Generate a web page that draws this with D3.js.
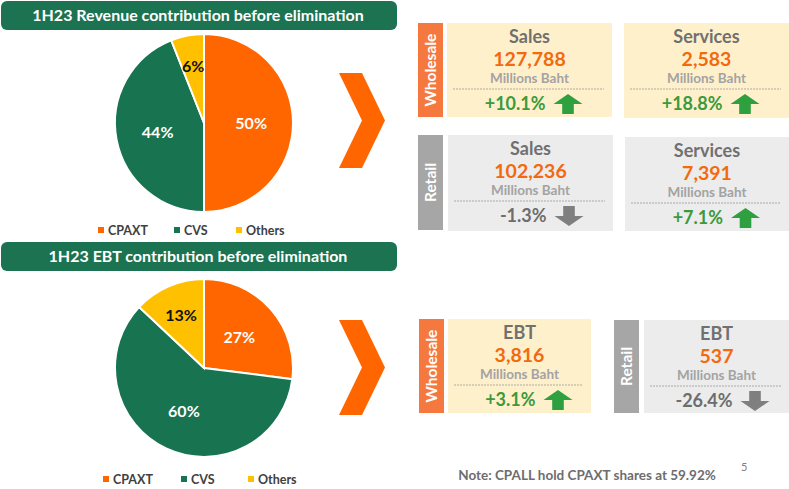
<html>
  <head>
    <style>
      body { margin: 0; background: #fff; }
      text { font-family: "Lato", "DejaVu Sans", sans-serif; font-weight: bold; }
    </style>
  </head>
  <body>
    <svg id="container" height="489" width="789"></svg>
    <script src="https://cdn.jsdelivr.net/npm/d3@7"></script>
    <script>
      // data
      const segments = ["CPAXT", "CVS", "Others"];
      const revenueShare = [50, 44, 6];
      const ebtShare = [27, 60, 13];
      const pieTitles = ["1H23 Revenue contribution before elimination", "1H23 EBT contribution before elimination"];

      const cardTitles = ["Sales", "Services", "Sales", "Services", "EBT", "EBT"];
      const cardValues = [127788, 2583, 102236, 7391, 3816, 537];
      const cardChanges = [10.1, 18.8, -1.3, 7.1, 3.1, -26.4];
      const groupLabels = ["Wholesale", "Retail", "Wholesale", "Retail"];
      const noteText = "Note: CPALL hold CPAXT shares at 59.92%";
      const pageNumber = "5";

      const colors = { CPAXT: "#ff6600", CVS: "#177350", Others: "#ffc000" };
      const titleGreen = "#1b7352";

      let svg = d3.select("#container");

      // ---------- pies ----------
      const pies = [
        { share: revenueShare, title: pieTitles[0], barY: 1, cx: 204, cy: 123, r: 89, legY: 230, legX: [98, 174, 236] },
        { share: ebtShare, title: pieTitles[1], barY: 242, cx: 204, cy: 368, r: 89, legY: 479, legX: [103, 181, 248] }
      ];

      let pie = d3.pie().sort(null).value((d) => d.v);

      pies.forEach((p) => {
        svg.append("rect")
          .attr("x", 1).attr("y", p.barY)
          .attr("width", 396).attr("height", 29)
          .attr("rx", 6)
          .attr("fill", titleGreen);
        svg.append("text")
          .attr("x", 198).attr("y", p.barY + 20)
          .attr("text-anchor", "middle")
          .attr("fill", "#fff")
          .attr("font-size", 16)
          .text(p.title);

        let arc = d3.arc().innerRadius(0).outerRadius(p.r);
        let data = pie(segments.map((s, i) => ({ name: s, v: p.share[i] })));
        let g = svg.append("g").attr("transform", `translate(${p.cx},${p.cy})`);
        g.selectAll("path")
          .data(data)
          .enter()
          .append("path")
          .attr("d", arc)
          .attr("fill", (d) => colors[d.data.name])
          .attr("stroke", "#fff")
          .attr("stroke-width", 2);
        g.selectAll(".lbl")
          .data(data)
          .enter()
          .append("text")
          .attr("class", "lbl")
          .attr("transform", (d) => {
            // small slices get their label pushed further out
            let rr = p.r * (d.data.v < 20 ? 0.65 : 0.53);
            let c = d3.arc().innerRadius(rr).outerRadius(rr).centroid(d);
            return `translate(${c[0]},${c[1] + 6})`;
          })
          .attr("text-anchor", "middle")
          .attr("font-size", 16)
          .attr("fill", (d) => (d.data.name === "Others" ? "#111" : "#fff"))
          .text((d) => d.data.v + "%");

        // legend
        segments.forEach((s, i) => {
          svg.append("rect")
            .attr("x", p.legX[i]).attr("y", p.legY - 3)
            .attr("width", 6).attr("height", 6)
            .attr("fill", colors[s]);
          svg.append("text")
            .attr("x", p.legX[i] + 10).attr("y", p.legY + 5)
            .attr("font-size", 12.5)
            .attr("fill", "#404040")
            .text(s);
        });
      });

      // chevrons
      [73, 320].forEach((y) => {
        let h = 95, x = 339, w = 46, t = 23;
        let pts = [[x, y], [x + t, y], [x + w, y + h / 2], [x + t, y + h], [x, y + h], [x + w - t, y + h / 2]];
        svg.append("path")
          .attr("d", d3.line()(pts) + "Z")
          .attr("fill", "#ff6600");
      });

      // ---------- cards ----------
      const labelBoxes = [
        { x: 418, y: 23, h: 94, fill: "#f5783f" },
        { x: 418, y: 135, h: 95, fill: "#a6a6a6" },
        { x: 419, y: 319, h: 94, fill: "#f5783f" },
        { x: 614, y: 320, h: 93, fill: "#a6a6a6" }
      ];
      labelBoxes.forEach((b, i) => {
        svg.append("rect")
          .attr("x", b.x).attr("y", b.y)
          .attr("width", 25).attr("height", b.h)
          .attr("fill", b.fill);
        svg.append("text")
          .attr("transform", `translate(${b.x + 18},${b.y + b.h / 2}) rotate(-90)`)
          .attr("text-anchor", "middle")
          .attr("font-size", 15.5)
          .attr("fill", "#fff")
          .text(groupLabels[i]);
      });

      const cardBoxes = [
        { x: 447, y: 23, w: 165, h: 94, fill: "#fff0cc" },
        { x: 624, y: 23, w: 165, h: 95, fill: "#fff0cc" },
        { x: 448, y: 135, w: 165, h: 96, fill: "#ececec" },
        { x: 625, y: 137, w: 164, h: 94, fill: "#ececec" },
        { x: 448, y: 319, w: 143, h: 94, fill: "#fff0cc" },
        { x: 644, y: 320, w: 145, h: 93, fill: "#ececec" }
      ];
      const fmt = d3.format(",");

      function arrowPath(x0, y0, w, h, up) {
        let pts = up
          ? [[x0 + w / 2, y0], [x0 + w, y0 + h * 0.5], [x0 + w * 0.7, y0 + h * 0.5], [x0 + w * 0.7, y0 + h],
             [x0 + w * 0.3, y0 + h], [x0 + w * 0.3, y0 + h * 0.5], [x0, y0 + h * 0.5]]
          : [[x0 + w / 2, y0 + h], [x0 + w, y0 + h * 0.5], [x0 + w * 0.7, y0 + h * 0.5], [x0 + w * 0.7, y0],
             [x0 + w * 0.3, y0], [x0 + w * 0.3, y0 + h * 0.5], [x0, y0 + h * 0.5]];
        return d3.line()(pts) + "Z";
      }

      cardBoxes.forEach((b, i) => {
        let cx = b.x + b.w / 2;
        let g = svg.append("g");
        g.append("rect")
          .attr("x", b.x).attr("y", b.y)
          .attr("width", b.w).attr("height", b.h)
          .attr("fill", b.fill);
        g.append("text")
          .attr("x", cx).attr("y", b.y + 20)
          .attr("text-anchor", "middle")
          .attr("font-size", 18)
          .attr("fill", "#707070")
          .text(cardTitles[i]);
        g.append("text")
          .attr("x", cx).attr("y", b.y + 43)
          .attr("text-anchor", "middle")
          .attr("font-size", 19.5)
          .attr("fill", "#f26a0c")
          .text(fmt(cardValues[i]));
        g.append("text")
          .attr("x", cx).attr("y", b.y + 60)
          .attr("text-anchor", "middle")
          .attr("font-size", 13.5)
          .attr("fill", "#a3a3a3")
          .text("Millions Baht");
        g.append("line")
          .attr("x1", b.x + 6).attr("x2", b.x + b.w - 8)
          .attr("y1", b.y + 66).attr("y2", b.y + 66)
          .attr("stroke", "#999")
          .attr("stroke-width", 0.8)
          .attr("stroke-dasharray", "2,1");
        let ch = cardChanges[i];
        let up = ch > 0;
        let txt = (up ? "+" : "") + ch.toFixed(1) + "%";
        g.append("text")
          .attr("x", cx + 16).attr("y", b.y + 87)
          .attr("text-anchor", "end")
          .attr("font-size", 18)
          .attr("fill", up ? "#3a9a3c" : "#6d6d6d")
          .text(txt);
        g.append("path")
          .attr("d", arrowPath(cx + 24, b.y + 71, 29, 20, up))
          .attr("fill", up ? "#2fa03f" : "#7f7f7f");
      });

      svg.append("text")
        .attr("x", 587).attr("y", 480)
        .attr("text-anchor", "middle")
        .attr("font-size", 13.5)
        .attr("fill", "#6d6d6d")
        .text(noteText);
      svg.append("text")
        .attr("x", 741).attr("y", 471)
        .attr("font-size", 11)
        .style("font-weight", "normal")
        .attr("fill", "#808080")
        .text(pageNumber);
    </script>
  </body>
</html>
